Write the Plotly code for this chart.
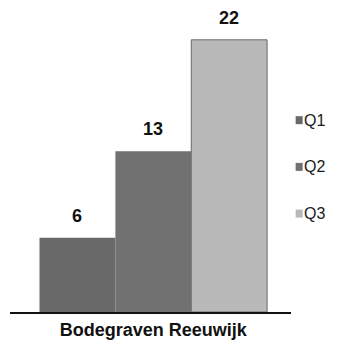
import plotly.graph_objects as go

categories = ["Bodegraven Reeuwijk"]
series_names = ["Q1", "Q2", "Q3"]
series_values = [[6], [13], [22]]
series_colors = ["#696969", "#717171", "#b9b9b9"]
series_edges = ["rgba(0,0,0,0)", "rgba(0,0,0,0)", "#6a6a6a"]

FONT = "Liberation Sans, Arial"

fig = go.Figure()
for name, vals, col, edge in zip(series_names, series_values, series_colors, series_edges):
    fig.add_trace(go.Bar(
        x=categories, y=vals, name=name, showlegend=False,
        marker=dict(color=col, line=dict(width=1, color=edge)),
    ))

# value labels above each bar
offsets = {"Q1": -1, "Q2": 0, "Q3": 1}
for name, vals in zip(series_names, series_values):
    for c, v in zip(categories, vals):
        fig.add_annotation(
            x=offsets[name] * 0.27, xref="x", y=v, yref="y",
            text="<b>%d</b>" % v, showarrow=False, yanchor="bottom", yshift=10,
            font=dict(family=FONT, size=18, color="#111111"),
        )

# compact legend on the right: small colour square followed by the series name
for i, (name, col) in enumerate(zip(series_names, series_colors)):
    yc = 0.657 - i * 0.16
    fig.add_shape(
        type="rect", xref="paper", yref="paper",
        xsizemode="pixel", ysizemode="pixel",
        xanchor=1.029, yanchor=yc,
        x0=-3.5, x1=3.5, y0=-4, y1=4,
        fillcolor=col, line=dict(width=0),
    )
    fig.add_annotation(
        x=1.04, xref="paper", y=yc, yref="paper",
        text=name, showarrow=False, xanchor="left", yanchor="middle",
        font=dict(family=FONT, size=16, color="#1a1a1a"),
    )

fig.update_layout(
    width=339, height=345,
    margin=dict(l=10, r=48, t=20, b=33, autoexpand=False),
    plot_bgcolor="white", paper_bgcolor="white",
    barmode="group", bargap=0.19, bargroupgap=0,
    showlegend=False,
    xaxis=dict(
        type="category", range=[-0.51, 0.49],
        showline=True, linecolor="#111111", linewidth=2,
        ticks="", showgrid=False,
        tickfont=dict(family=FONT, size=18, color="#111111"),
    ),
    yaxis=dict(range=[0, 23.6], visible=False, showgrid=False, zeroline=False),
)
fig.update_xaxes(tickvals=[0], ticktext=["<b>%s</b>" % c for c in categories])
fig.write_html("out.html")
